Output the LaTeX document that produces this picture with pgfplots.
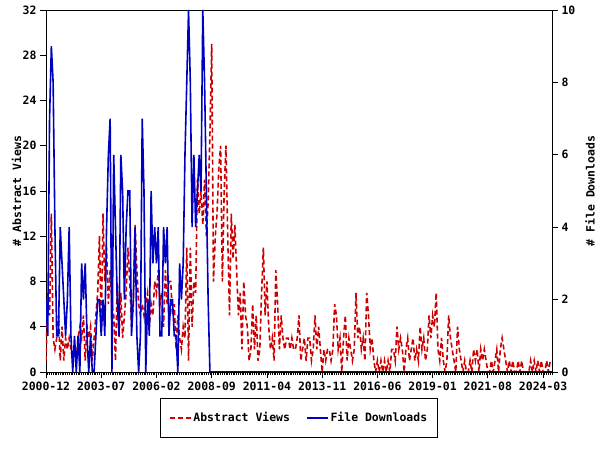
\documentclass[border=0pt]{standalone}
\usepackage{fontspec}
\setmainfont{DejaVu Sans Mono}
\usepackage{pgfplots}
\usepackage{pgfplotstable}
\pgfplotsset{compat=1.18}
\definecolor{vred}{RGB}{204,0,0}
\definecolor{dblue}{RGB}{0,0,192}

\pgfplotstableread[row sep=\\]{v\\
1\\7\\5\\14\\3\\2\\3\\5\\1\\4\\
1\\3\\2\\3\\2\\1\\2\\1\\3\\4\\
3\\5\\1\\4\\3\\4\\1\\3\\5\\7\\
12\\4\\14\\8\\11\\6\\9\\6\\5\\1\\
8\\3\\7\\3\\5\\7\\11\\8\\4\\6\\
13\\9\\6\\5\\6\\5\\6\\7\\4\\6\\
5\\8\\7\\9\\6\\7\\4\\9\\6\\8\\
8\\5\\6\\2\\5\\3\\2\\4\\3\\11\\
1\\11\\4\\8\\7\\17\\14\\16\\13\\17\\
12\\15\\21\\29\\8\\12\\14\\18\\20\\8\\
16\\20\\12\\5\\14\\10\\13\\9\\5\\7\\
2\\8\\5\\4\\1\\2\\6\\2\\5\\1\\
2\\7\\11\\5\\8\\4\\2\\3\\1\\9\\
6\\2\\5\\3\\2\\3\\3\\2\\3\\2\\
2\\3\\5\\1\\2\\3\\1\\3\\3\\1\\
2\\5\\2\\4\\2\\0\\2\\1\\2\\2\\
1\\2\\6\\5\\2\\3\\0\\3\\5\\1\\
3\\2\\1\\2\\7\\3\\4\\2\\3\\1\\
7\\5\\2\\3\\1\\0\\1\\0\\1\\0\\
1\\0\\1\\0\\2\\2\\1\\4\\2\\3\\
2\\0\\2\\3\\1\\2\\3\\1\\2\\1\\
4\\2\\3\\1\\2\\5\\3\\5\\4\\7\\
2\\1\\3\\1\\0\\1\\5\\3\\2\\1\\
0\\4\\2\\1\\0\\1\\0\\0\\1\\0\\
2\\1\\2\\0\\2\\1\\2\\1\\0\\0\\
1\\0\\1\\2\\0\\2\\3\\2\\1\\0\\
1\\0\\1\\0\\0\\1\\0\\1\\0\\0\\
0\\0\\1\\0\\1\\0\\1\\0\\1\\0\\
0\\1\\0\\1\\1\\
}\views

\pgfplotstableread[row sep=\\]{d\\
2\\1\\7\\9\\8\\4\\1\\1\\4\\3\\
2\\1\\2\\4\\1\\0\\1\\0\\1\\0\\
3\\2\\3\\1\\0\\1\\0\\0\\1\\2\\
2\\1\\2\\1\\4\\6\\7\\0\\6\\4\\
2\\1\\6\\5\\2\\4\\5\\5\\1\\2\\
4\\1\\0\\1\\7\\5\\0\\2\\1\\5\\
3\\4\\3\\4\\1\\1\\4\\3\\4\\1\\
2\\2\\1\\1\\0\\3\\2\\3\\6\\8\\
10\\8\\4\\6\\4\\5\\6\\5\\10\\8\\
5\\2\\0\\0\\0\\0\\0\\0\\0\\0\\
0\\0\\0\\0\\0\\0\\0\\0\\0\\0\\
0\\0\\0\\0\\0\\0\\0\\0\\0\\0\\
0\\0\\0\\0\\0\\0\\0\\0\\0\\0\\
0\\0\\0\\0\\0\\0\\0\\0\\0\\0\\
0\\0\\0\\0\\0\\0\\0\\0\\0\\0\\
0\\0\\0\\0\\0\\0\\0\\0\\0\\0\\
0\\0\\0\\0\\0\\0\\0\\0\\0\\0\\
0\\0\\0\\0\\0\\0\\0\\0\\0\\0\\
0\\0\\0\\0\\0\\0\\0\\0\\0\\0\\
0\\0\\0\\0\\0\\0\\0\\0\\0\\0\\
0\\0\\0\\0\\0\\0\\0\\0\\0\\0\\
0\\0\\0\\0\\0\\0\\0\\0\\0\\0\\
0\\0\\0\\0\\0\\0\\0\\0\\0\\0\\
0\\0\\0\\0\\0\\0\\0\\0\\0\\0\\
0\\0\\0\\0\\0\\0\\0\\0\\0\\0\\
0\\0\\0\\0\\0\\0\\0\\0\\0\\0\\
0\\0\\0\\0\\0\\0\\0\\0\\0\\0\\
0\\0\\0\\0\\0\\0\\0\\0\\0\\0\\
0\\0\\0\\0\\0\\
}\downloads

\newcommand{\cf}{\fontsize{11.5}{13}\selectfont\bfseries}

\pgfplotsset{
  common/.style={
    at={(46bp,78bp)}, anchor=south west,
    width=506bp, height=362bp, scale only axis,
    xmin=0, xmax=284,
    /pgf/number format/assume math mode=true,
    tick label style={font=\cf},
    axis line style={line width=0.8bp},
    tick style={line width=0.8bp, black},
    major tick length=6bp,
    minor tick length=3bp,
    tick align=outside,
  }
}

\begin{document}
\begin{tikzpicture}
\path[use as bounding box] (0,0) rectangle (600bp,450bp);
\begin{axis}[
  common,
  ymin=0, ymax=32,
  ytick={0,4,...,32},
  xtick={0,31,...,279},
  xticklabels={2000-12,2003-07,2006-02,2008-09,2011-04,2013-11,2016-06,2019-01,2021-08,2024-03},
  minor xtick={0,1,...,284},
  xtick pos=bottom,
  axis y line*=left,
  ylabel={\# Abstract Views},
  every axis y label/.style={at={(axis description cs:-0.058,0.5)}, rotate=90, anchor=center, font=\cf},
  legend columns=2,
  legend style={at={(0.5,-0.072)}, anchor=north, draw=black, line width=0.8bp,
    font=\cf, inner xsep=8bp, inner ysep=12bp,
    /tikz/every even column/.append style={column sep=14bp}},
  legend image code/.code={\draw[#1] (0bp,0bp) -- (21bp,0bp);},
]
\addplot[vred, line width=1.6bp, dash pattern=on 5bp off 3bp] table[x expr=\coordindex, y=v]{\views};
\addlegendentry{Abstract Views}
\addlegendimage{dblue, line width=1.6bp, solid}
\addlegendentry{File Downloads}
\end{axis}
\begin{axis}[
  common,
  ymin=0, ymax=10,
  ytick={0,2,...,10},
  axis y line*=right,
  axis x line=none,
  ylabel={\# File Downloads},
  every axis y label/.style={at={(axis description cs:1.075,0.5)}, rotate=90, anchor=center, font=\cf},
]
\addplot[dblue, line width=1.6bp] table[x expr=\coordindex, y=d]{\downloads};
\end{axis}
\end{tikzpicture}
\end{document}
